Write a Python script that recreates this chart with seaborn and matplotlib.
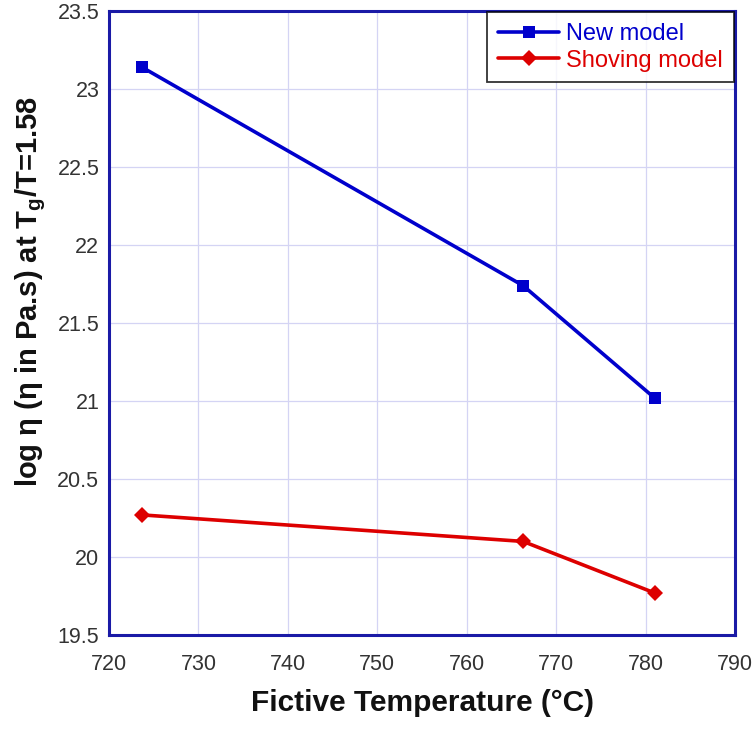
import pandas as pd
import numpy as np
import seaborn as sns
import matplotlib.pyplot as plt

# values
fictive_temp = [723.7, 766.3, 781.0]
new_model = [23.14, 21.74, 21.02]
shoving_model = [20.27, 20.10, 19.77]
series_names = ['New model', 'Shoving model']

df = pd.DataFrame({
    'Tf': fictive_temp * 2,
    'logeta': new_model + shoving_model,
    'model': [series_names[0]] * 3 + [series_names[1]] * 3,
})

sns.set_style('white')
plt.rcParams['font.family'] = ['Liberation Sans', 'DejaVu Sans']
plt.rcParams['mathtext.fontset'] = 'custom'
plt.rcParams['mathtext.rm'] = 'Liberation Sans:bold'
plt.rcParams['mathtext.it'] = 'Liberation Sans:bold'
plt.rcParams['mathtext.bf'] = 'Liberation Sans:bold'

colors = {'New model': '#0000cc', 'Shoving model': '#dd0000'}

fig = plt.figure(figsize=(7.54, 7.42), dpi=100)
ax = fig.add_axes([0.1446, 0.1442, 0.9748 - 0.1446, 0.985 - 0.1442])

sns.lineplot(data=df, x='Tf', y='logeta', hue='model', style='model',
             markers={'New model': 's', 'Shoving model': 'D'}, dashes=False,
             palette=colors, linewidth=2.6, markersize=8, markeredgewidth=0,
             ax=ax)

ax.set_xlim(720, 790)
ax.set_ylim(19.5, 23.5)
ax.set_xticks(np.arange(720, 791, 10))
ax.set_yticks(np.arange(19.5, 23.51, 0.5))
ax.set_yticklabels(['19.5', '20', '20.5', '21', '21.5', '22', '22.5', '23', '23.5'])
ax.grid(True, color='#d4d4f4', linewidth=0.9)
ax.tick_params(axis='both', labelsize=15.5, colors='#333333', length=0)
ax.tick_params(axis='x', pad=14)
ax.tick_params(axis='y', pad=7)
for s in ax.spines.values():
    s.set_color('#1a1aa6')
    s.set_linewidth(2.2)

ax.set_xlabel('Fictive Temperature (°C)', fontsize=21.5, fontweight='bold',
              color='#111111')
ax.set_ylabel('log η (η in Pa.s) at T$_\\mathrm{g}$/T=1.58', fontsize=21,
              fontweight='bold', color='#111111')
ax.xaxis.set_label_coords(0.5, -0.087)
ax.yaxis.set_label_coords(-0.097, 0.55)

handles, labels = ax.get_legend_handles_labels()
leg = ax.legend(handles, labels, loc='upper right', fontsize=17, frameon=True,
                fancybox=False, edgecolor='black', borderaxespad=0.05,
                handlelength=2.6, handletextpad=0.3, labelspacing=0.2,
                borderpad=0.45,
                labelcolor=[colors[l] for l in labels])
leg.get_frame().set_linewidth(1.3)

fig.savefig('out.png', dpi=100)
